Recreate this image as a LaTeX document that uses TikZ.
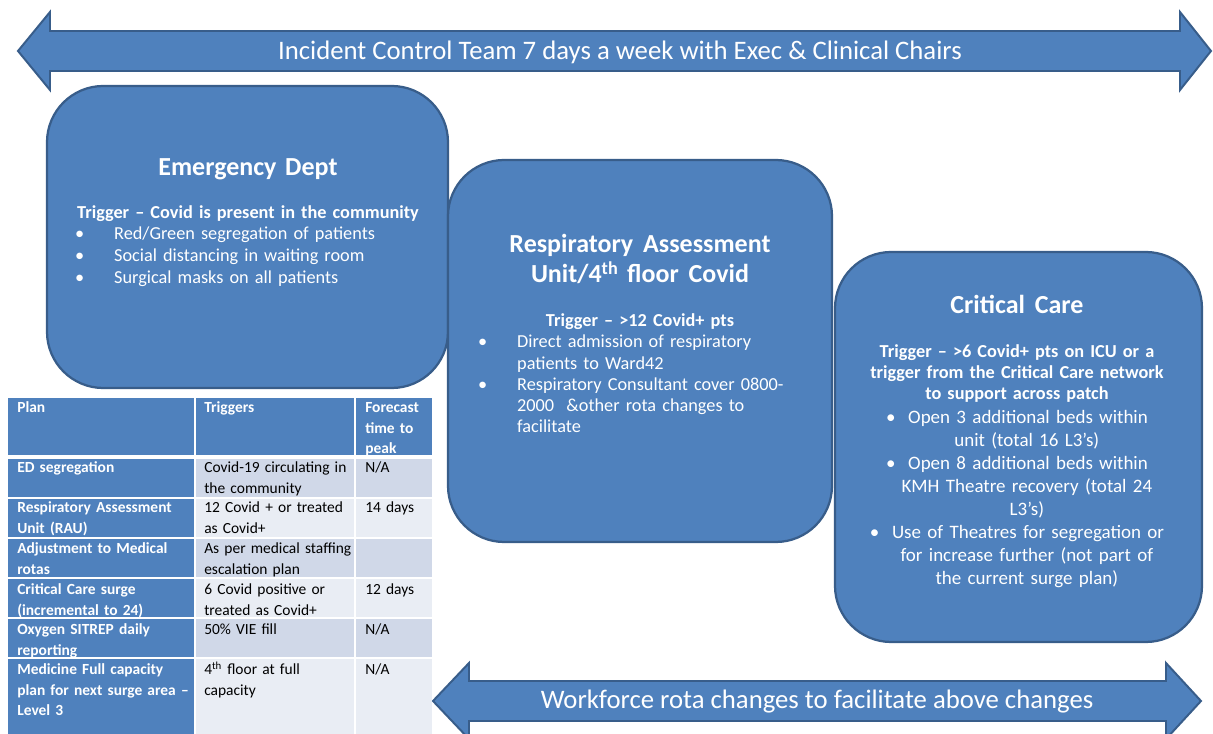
\documentclass[tikz,border=0pt]{standalone}
\usepackage{fontspec}
\setmainfont{Carlito}
\usetikzlibrary{positioning}

\definecolor{planblue}{HTML}{4F81BD}
\definecolor{planedge}{HTML}{385D8A}
\definecolor{rowdark}{HTML}{D0D8E8}
\definecolor{rowlight}{HTML}{E9EDF4}

\newcommand{\fsz}[2]{\fontsize{#1}{#2}\selectfont}
\newcommand{\bul}{\makebox[24.8pt][l]{\hspace{-3pt}\textbullet}}
\newcommand{\contind}{\hspace*{24.8pt}}
\newcommand{\wsp}{\hspace{7pt}}

\tikzset{
  panel/.style={draw=planedge,line width=1.6pt,fill=planblue,rounded corners=40pt},
  band/.style={draw=planedge,line width=1.4pt,fill=planblue,line join=miter},
  bandtext/.style={text=white,inner sep=0pt,font=\fsz{19}{22}},
  boxtitle/.style={text=white,inner sep=0pt,anchor=base,text width=260pt,align=center,font=\bfseries\fsz{18.5}{21.3}},
  boxtrig/.style={text=white,inner sep=0pt,anchor=base,text width=260pt,align=center,font=\bfseries\fsz{13}{14.9}},
  boxlist/.style={text=white,inner sep=0pt,anchor=base west,text width=245pt,align=left,font=\fsz{13}{15.6}},
  headcell/.style={text=white,inner sep=0pt,anchor=base west,text width=128pt,align=left,font=\bfseries\fsz{11}{14.5}},
  bodycell/.style={text=black,inner sep=0pt,anchor=base west,text width=110pt,align=left,font=\fsz{11}{14.5}}
}

\begin{document}
\begin{tikzpicture}[x=0.025cm,y=-0.025cm]
\useasboundingbox (0,0) rectangle (1213,734);
\fill[white] (0,0) rectangle (1213,734);

% top band
\draw[band] (18,51) -- (50,12) -- (50,31) -- (1180,31) -- (1180,12) -- (1211,51) -- (1180,90) -- (1180,71) -- (50,71) -- (50,90) -- cycle;
\node[bandtext] (ict) at (620,52) {Incident Control Team 7 days a week with Exec \& Clinical Chairs};

% bottom band
\draw[band] (433,701) -- (469,663) -- (469,681) -- (1166,681) -- (1166,663) -- (1201,701) -- (1166,739) -- (1166,721) -- (469,721) -- (469,739) -- cycle;
\node[bandtext] (wf) at (817,702) {Workforce rota changes to facilitate above changes};

% emergency dept
\draw[panel] (47,86) rectangle (448,388);
\node[boxtitle] (edtitle) at (248,176) {Emergency Dept};
\node[boxtrig] (edtrig) at (248,219) {Trigger – Covid is present in the community};
\node[boxlist,font=\fsz{13}{15.6}] (edlist) at (79,240) {\bul Red/Green segregation of patients\\
\bul Social distancing in waiting room\\
\bul Surgical masks on all patients};

% respiratory assessment unit
\draw[panel] (448,160) rectangle (832,542);
\node[boxtitle] (rautitle) at (640,253) {Respiratory\wsp Assessment\\Unit/4\textsuperscript{th} floor\wsp Covid};
\node[boxtrig] (rautrig) at (640,327) {Trigger – >12 Covid+ pts};
\node[boxlist,font=\fsz{13}{15}] (raulist) at (482,348) {\bul Direct admission of respiratory\\
\contind patients to Ward42\\
\bul Respiratory Consultant cover 0800-\\
\contind 2000~ \&other rota changes to\\
\contind facilitate};

% critical care
\draw[panel] (835,252) rectangle (1202,642);
\node[boxtitle] (cctitle) at (1017,314) {Critical\wsp Care};
\node[boxtrig] (cctrig) at (1017,358) {Trigger – >6 Covid+ pts on ICU or a\\trigger from the Critical Care network\\to support across patch};
\node[boxtrig,font=\fsz{13.5}{16.3}] (cclist) at (1017,424) {\textbullet\hspace{9pt}Open 3 additional beds within\\
\hspace*{14pt}unit (total 16 L3’s)\\
\textbullet\hspace{9pt}Open 8 additional beds within\\
\hspace*{14pt}KMH Theatre recovery (total 24\\
\hspace*{14pt}L3’s)\\
\textbullet\hspace{9pt}Use of Theatres for segregation or\\
\hspace*{14pt}for increase further (not part of\\
\hspace*{14pt}the current surge plan)};

% plan table
\fill[planblue] (8,398) rectangle (194,455);
\fill[planblue] (196,398) rectangle (354,455);
\fill[planblue] (356,398) rectangle (432,455);
\foreach \rtop/\rbot/\shade in {459/497/rowdark,499/537/rowlight,539/577/rowdark,579/617/rowlight,619/657/rowdark,659/734/rowlight}{
  \fill[planblue] (8,\rtop) rectangle (194,\rbot);
  \fill[\shade] (196,\rtop) rectangle (354,\rbot);
  \fill[\shade] (356,\rtop) rectangle (432,\rbot);
}
\node[headcell] (hplan) at (17,413) {Plan};
\node[headcell] (htrig) at (204,413) {Triggers};
\node[headcell] (hfcast) at (365,413) {Forecast\\time to\\peak};

\node[headcell] (ped) at (17,473) {ED segregation};
\node[bodycell] (ted) at (204,473) {Covid-19 circulating in\\the community};
\node[bodycell] (fed) at (365,473) {N/A};

\node[headcell] (prau) at (17,513) {Respiratory Assessment\\Unit (RAU)};
\node[bodycell] (trau) at (204,513) {12 Covid + or treated\\as Covid+};
\node[bodycell] (frau) at (365,513) {14 days};

\node[headcell] (prota) at (17,554) {Adjustment to Medical\\rotas};
\node[bodycell] (trota) at (204,554) {As per medical staffing\\escalation plan};

\node[headcell] (pcc) at (17,595) {Critical Care surge\\(incremental to 24)};
\node[bodycell] (tcc) at (204,595) {6 Covid positive or\\treated as Covid+};
\node[bodycell] (fcc) at (365,595) {12 days};

\node[headcell] (poxy) at (17,635) {Oxygen SITREP daily\\reporting};
\node[bodycell] (toxy) at (204,635) {50\% VIE fill};
\node[bodycell] (foxy) at (365,635) {N/A};

\node[headcell] (pmed) at (17,675) {Medicine Full capacity\\plan for next surge area –\\Level 3};
\node[bodycell] (tmed) at (204,675) {4\textsuperscript{th} floor at full\\capacity};
\node[bodycell] (fmed) at (365,675) {N/A};
\end{tikzpicture}
\end{document}
